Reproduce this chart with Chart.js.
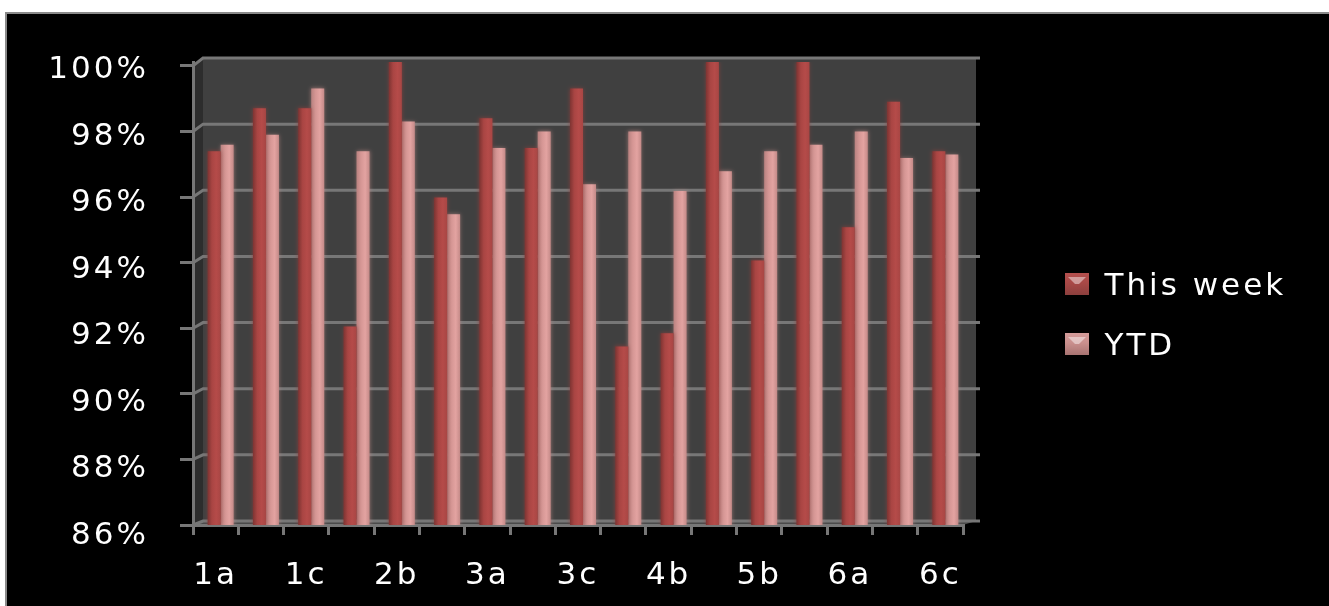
<!DOCTYPE html>
<html>
<head>
<meta charset="utf-8">
<title>This week vs YTD</title>
<script src="https://cdn.jsdelivr.net/npm/chart.js@4"></script>
<style>
  html, body { margin: 0; padding: 0; background: #fff; overflow: hidden; }
  #frame { position: absolute; left: 5px; top: 12px; right: 0; bottom: 0; background: #000;
           border-left: 2px solid #8a8a8a; border-top: 2px solid #8a8a8a; }
  #chart { position: absolute; left: 0; top: 0; }
</style>
</head>
<body>
<div id="frame"></div>
<canvas id="chart" width="1329" height="606"></canvas>
<script>
const categories = ['1a','1b','1c','2a','2b','2c','3a','3b','3c','4a','4b','5a','5b','5c','6a','6b','6c'];
const thisWeek = [97.3,98.6,98.6,92.0,100,95.9,98.3,97.4,99.2,91.4,91.8,100,94.0,100,95.0,98.8,97.3];
const ytd = [97.5,97.8,99.2,97.3,98.2,95.4,97.4,97.9,96.3,97.9,96.1,96.7,97.3,97.5,97.9,97.1,97.2];
const yTickValues = [86,88,90,92,94,96,98,100];

const FONT = { family: 'DejaVu Sans', size: 31 };
const GRID = '#777777';
const CAT_PCT = 0.574;
const SPACING = '3px';

// colour stops across one bar, left to right
const redStops = ['#7e3432', '#a94543', '#b54b49', '#a84644'];
const pinkStops = ['#b98280', '#d59694', '#e3a3a1', '#c48a88'];
const haloColors = ['rgba(150,62,60,0.75)', 'rgba(205,145,143,0.6)'];

function barFill(stops, slot) {
  return function (c) {
    const xs = c.chart.scales.x;
    const mid = xs.getPixelForValue(c.dataIndex);
    const w = xs.width / categories.length * CAT_PCT / 2;
    const left = slot === 0 ? mid - w : mid;
    const g = c.chart.ctx.createLinearGradient(left, 0, left + w, 0);
    stops.forEach((s, i) => g.addColorStop(i / (stops.length - 1), s));
    return g;
  };
}

// little bevelled legend marker, the empty strip below lifts it to the text
function marker(top, body, bottom) {
  const m = document.createElement('canvas');
  m.width = 24; m.height = 28;
  const c = m.getContext('2d');
  const g = c.createLinearGradient(0, 0, 0, 22);
  g.addColorStop(0, top); g.addColorStop(0.45, body); g.addColorStop(1, bottom);
  c.fillStyle = g;
  c.fillRect(0, 0, 24, 22);
  c.fillStyle = 'rgba(255,255,255,0.45)';
  c.beginPath();
  c.moveTo(3, 4); c.lineTo(21, 4); c.lineTo(14, 11); c.lineTo(10, 11);
  c.closePath();
  c.fill();
  return m;
}
const markers = [marker('#b5504e', '#a84846', '#8c3f3d'), marker('#d59c9a', '#c98f8d', '#a87371')];

// fake 3d box behind the bars, and the small shift of the bars into it
const box3d = {
  id: 'box3d',
  beforeUpdate(chart) { chart.ctx.letterSpacing = SPACING; },
  afterLayout(chart) {
    chart.legend.top -= 17;
    chart.legend.bottom -= 17;
    // the legend width moves with the text, so pin the plot's right edge
    chart.legend.left = 1036;
    chart.legend.right = 1329;
  },
  beforeDraw(chart) {
    const ctx = chart.ctx;
    const a = chart.chartArea;
    const y = chart.scales.y;
    const front = chart.scales.yFront;
    const backL = a.left + 10, backR = a.right + 13;
    const back = v => y.getPixelForValue(v) - 4;
    ctx.save();
    ctx.fillStyle = '#404040';
    ctx.fillRect(backL, back(100), backR - backL, back(86) - back(100));
    ctx.fillStyle = '#2d2d2d';
    ctx.beginPath();
    ctx.moveTo(a.left, front.getPixelForValue(100));
    ctx.lineTo(backL, back(100));
    ctx.lineTo(backL, back(86));
    ctx.lineTo(a.left, a.bottom);
    ctx.closePath();
    ctx.fill();
    ctx.fillStyle = '#4a4a4a';
    ctx.beginPath();
    ctx.moveTo(a.left, a.bottom);
    ctx.lineTo(backL, back(86));
    ctx.lineTo(backR, back(86));
    ctx.lineTo(a.right, a.bottom);
    ctx.closePath();
    ctx.fill();
    ctx.strokeStyle = GRID;
    ctx.lineWidth = 3;
    yTickValues.forEach(v => {
      ctx.beginPath();
      ctx.moveTo(a.left, front.getPixelForValue(v));
      ctx.lineTo(backL, back(v));
      ctx.lineTo(backR + 4, back(v));
      ctx.stroke();
    });
    ctx.restore();
  },
  beforeDatasetsDraw(chart) {
    chart.ctx.save();
    chart.ctx.translate(5, 0);
  },
  beforeDatasetDraw(chart, args) {
    chart.ctx.shadowColor = haloColors[args.index];
    chart.ctx.shadowBlur = 4;
  },
  afterDatasetsDraw(chart) {
    chart.ctx.restore();
  }
};

new Chart(document.getElementById('chart'), {
  type: 'bar',
  data: {
    labels: categories,
    datasets: [
      { label: 'This week', data: thisWeek, backgroundColor: barFill(redStops, 0), base: 86 },
      { label: 'YTD', data: ytd, backgroundColor: barFill(pinkStops, 1), base: 86 }
    ]
  },
  options: {
    responsive: false,
    animation: false,
    devicePixelRatio: 1,
    layout: { padding: { top: 62, left: 0, right: 0, bottom: 0 } },
    datasets: { bar: { categoryPercentage: CAT_PCT, barPercentage: 1 } },
    plugins: {
      tooltip: { enabled: false },
      legend: {
        position: 'right',
        maxWidth: 294,
        labels: {
          color: '#fff',
          font: FONT,
          padding: 29,
          usePointStyle: true,
          pointStyleWidth: 24,
          boxHeight: 22,
          generateLabels: chart => chart.data.datasets.map((d, i) => ({
            text: d.label, fontColor: '#fff', pointStyle: markers[i], datasetIndex: i, lineWidth: 0
          }))
        }
      }
    },
    scales: {
      x: {
        grid: { offset: true, drawOnChartArea: false, color: GRID, lineWidth: 3, tickLength: 10 },
        border: { color: GRID, width: 3 },
        ticks: {
          color: '#fff', font: FONT, padding: 22, maxRotation: 0, autoSkip: false,
          callback: (v, i) => (i % 2 === 0 ? categories[i] : '')
        },
        afterFit(s) { s.height = 81; }
      },
      y: { display: false, min: 86, max: 100 },
      yText: {
        position: 'left',
        weight: 2,
        min: 86.33, max: 100.24,
        grid: { display: false, drawTicks: false },
        border: { display: false },
        afterBuildTicks(s) { s.ticks = yTickValues.map(v => ({ value: v })); },
        ticks: { color: '#fff', font: FONT, padding: 31, autoSkip: false, callback: v => v + '%' },
        afterFit(s) { s.width = 180; }
      },
      yFront: {
        position: 'left',
        weight: 1,
        min: 86, max: 100.12,
        grid: { drawOnChartArea: false, color: GRID, lineWidth: 3, tickLength: 13 },
        border: { color: GRID, width: 3 },
        afterBuildTicks(s) { s.ticks = yTickValues.map(v => ({ value: v })); },
        ticks: { display: false },
        afterFit(s) { s.width = 13; }
      },
      gap: {
        position: 'right',
        grid: { display: false },
        border: { display: false },
        ticks: { display: false },
        // legend plus gap take everything right of the plot
        afterFit(s) { s.width = 1329 - 963 - s.chart.legend.width; }
      }
    }
  },
  plugins: [box3d]
});
</script>
</body>
</html>
